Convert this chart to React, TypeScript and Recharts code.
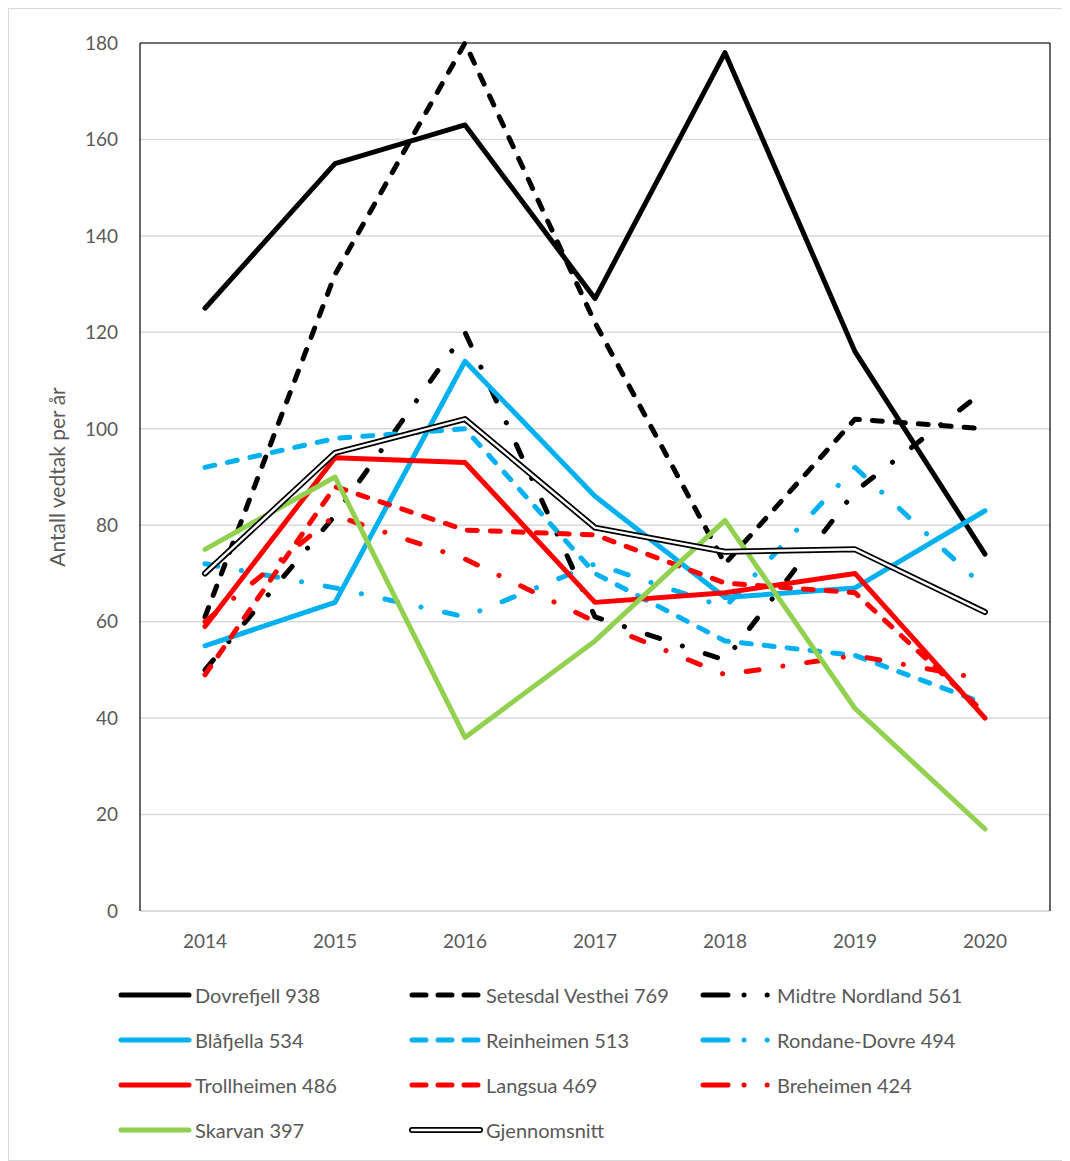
import React from 'react';
import {
  CartesianGrid,
  Label,
  Line,
  LineChart,
  XAxis,
  YAxis,
} from 'recharts';

const years = ['2014', '2015', '2016', '2017', '2018', '2019', '2020'];
const yTicks = [0, 20, 40, 60, 80, 100, 120, 140, 160, 180];

const dovrefjell = [125, 155, 163, 127, 178, 116, 74];
const setesdalVesthei = [61, 132, 180, 122, 72, 102, 100];
const midtreNordland = [50, 82, 120, 61, 52, 87, 108];
const blafjella = [55, 64, 114, 86, 65, 67, 83];
const reinheimen = [92, 98, 100, 70, 56, 53, 43];
const rondaneDovre = [72, 67, 61, 72, 63, 92, 67];
const trollheimen = [59, 94, 93, 64, 66, 70, 40];
const langsua = [49, 88, 79, 78, 68, 66, 41];
const breheimen = [60, 82, 73, 60, 49, 53, 48];
const skarvan = [75, 90, 36, 56, 81, 42, 17];
const gjennomsnitt = [70, 95, 102, 79.5, 74.5, 75, 62];

const BLACK = '#000000';
const CYAN = '#00b0f0';
const RED = '#ff0000';
const GREEN = '#92d050';

const DASH = '10 13';
const DASH_DOT = '13 24 0.1 24';

type Style = 'solid' | 'dash' | 'dashdot' | 'double';

const series: { key: string; name: string; color: string; style: Style }[] = [
  { key: 'dovrefjell', name: 'Dovrefjell 938', color: BLACK, style: 'solid' },
  { key: 'setesdalVesthei', name: 'Setesdal Vesthei 769', color: BLACK, style: 'dash' },
  { key: 'midtreNordland', name: 'Midtre Nordland 561', color: BLACK, style: 'dashdot' },
  { key: 'blafjella', name: 'Blåfjella 534', color: CYAN, style: 'solid' },
  { key: 'reinheimen', name: 'Reinheimen 513', color: CYAN, style: 'dash' },
  { key: 'rondaneDovre', name: 'Rondane-Dovre 494', color: CYAN, style: 'dashdot' },
  { key: 'trollheimen', name: 'Trollheimen 486', color: RED, style: 'solid' },
  { key: 'langsua', name: 'Langsua 469', color: RED, style: 'dash' },
  { key: 'breheimen', name: 'Breheimen 424', color: RED, style: 'dashdot' },
  { key: 'skarvan', name: 'Skarvan 397', color: GREEN, style: 'solid' },
  { key: 'gjennomsnitt', name: 'Gjennomsnitt', color: BLACK, style: 'double' },
];

const data = years.map((year, i) => ({
  year,
  dovrefjell: dovrefjell[i],
  setesdalVesthei: setesdalVesthei[i],
  midtreNordland: midtreNordland[i],
  blafjella: blafjella[i],
  reinheimen: reinheimen[i],
  rondaneDovre: rondaneDovre[i],
  trollheimen: trollheimen[i],
  langsua: langsua[i],
  breheimen: breheimen[i],
  skarvan: skarvan[i],
  gjennomsnitt: gjennomsnitt[i],
}));

const FONT = 'Lato, "Open Sans", sans-serif';
const TEXT = '#595959';

function LegendIcon({ color, style }: { color: string; style: Style }) {
  if (style === 'double') {
    return (
      <svg width={76} height={12}>
        <line x1={4} y1={6} x2={72} y2={6} stroke={BLACK} strokeWidth={6} strokeLinecap="round" />
        <line x1={4} y1={6} x2={72} y2={6} stroke="#fff" strokeWidth={2.5} strokeLinecap="round" />
      </svg>
    );
  }
  const dash = style === 'dash' ? '14 12' : style === 'dashdot' ? '25 16 0.1 23 0.1 100' : undefined;
  return (
    <svg width={76} height={12}>
      <line
        x1={4}
        y1={6}
        x2={72}
        y2={6}
        stroke={color}
        strokeWidth={5}
        strokeLinecap="round"
        strokeDasharray={dash}
      />
    </svg>
  );
}

function ChartLegend() {
  const colX = [109, 400, 691];
  return (
    <div style={{ position: 'relative', width: 1062, height: 200 }}>
      {series.map((s, i) => {
        const row = Math.floor(i / 3);
        const col = i % 3;
        return (
          <div
            key={s.key}
            style={{
              position: 'absolute',
              left: colX[col],
              top: row * 45,
              display: 'flex',
              alignItems: 'center',
              height: 26,
              fontFamily: FONT,
              fontSize: 20,
              color: TEXT,
              whiteSpace: 'nowrap',
            }}
          >
            <LegendIcon color={s.color} style={s.style} />
            <span style={{ marginLeft: 2 }}>{s.name}</span>
          </div>
        );
      })}
    </div>
  );
}

export default function App() {
  return (
    <div
      style={{
        position: 'relative',
        width: 1062,
        height: 1153,
        boxShadow: 'inset 0 0 0 1px #d9d9d9',
        background: '#fff',
      }}
    >
      <LineChart
        width={1062}
        height={960}
        data={data}
        margin={{ top: 34, right: 19, left: 0, bottom: 27 }}
        style={{ fontFamily: FONT }}
      >
        <CartesianGrid vertical={false} stroke="#d9d9d9" strokeWidth={1.5} />
        <XAxis
          dataKey="year"
          height={30}
          padding={{ left: 65, right: 65 }}
          tickLine={false}
          tickSize={6}
          tickMargin={18}
          axisLine={{ stroke: '#d9d9d9', strokeWidth: 1.5 }}
          tick={{ fill: TEXT, fontSize: 19 }}
        />
        <XAxis
          xAxisId="top"
          orientation="top"
          dataKey="year"
          height={1}
          padding={{ left: 65, right: 65 }}
          tick={false}
          tickLine={false}
          axisLine={{ stroke: BLACK, strokeWidth: 1.2 }}
        />
        <YAxis
          domain={[0, 180]}
          ticks={yTicks}
          width={132}
          tickLine={false}
          tickSize={6}
          tickMargin={16}
          axisLine={{ stroke: BLACK, strokeWidth: 1.2 }}
          tick={{ fill: TEXT, fontSize: 19 }}
        >
          <Label
            content={() => (
              <text
                x={52}
                y={469}
                transform="rotate(-90 52 469)"
                textAnchor="middle"
                dominantBaseline="middle"
                fill={TEXT}
                fontSize={21}
                fontFamily={FONT}
              >
                Antall vedtak per år
              </text>
            )}
          />
        </YAxis>
        <YAxis
          yAxisId="right"
          orientation="right"
          domain={[0, 180]}
          width={1}
          tick={false}
          tickLine={false}
          axisLine={{ stroke: BLACK, strokeWidth: 1.2 }}
        />
        {/* invisible series so the top/right frame axes get drawn */}
        <Line
          xAxisId="top"
          yAxisId="right"
          dataKey="gjennomsnitt"
          stroke="none"
          dot={false}
          activeDot={false}
          legendType="none"
          isAnimationActive={false}
        />
        {series.map((s) =>
          s.style === 'double' ? (
            <React.Fragment key={s.key}>
              <Line
                dataKey={s.key}
                stroke={BLACK}
                strokeWidth={6}
                dot={false}
                strokeLinejoin="round"
                strokeLinecap="round"
                isAnimationActive={false}
                legendType="none"
              />
              <Line
                dataKey={s.key}
                stroke="#ffffff"
                strokeWidth={2.5}
                dot={false}
                strokeLinejoin="round"
                strokeLinecap="round"
                isAnimationActive={false}
                legendType="none"
              />
            </React.Fragment>
          ) : (
            <Line
              key={s.key}
              dataKey={s.key}
              name={s.name}
              stroke={s.color}
              strokeWidth={5}
              strokeDasharray={s.style === 'dash' ? DASH : s.style === 'dashdot' ? DASH_DOT : undefined}
              strokeLinejoin="round"
              strokeLinecap="round"
              dot={false}
              isAnimationActive={false}
            />
          )
        )}
      </LineChart>
      <div style={{ position: 'absolute', left: 0, top: 974 }}>
        <ChartLegend />
      </div>
    </div>
  );
}
